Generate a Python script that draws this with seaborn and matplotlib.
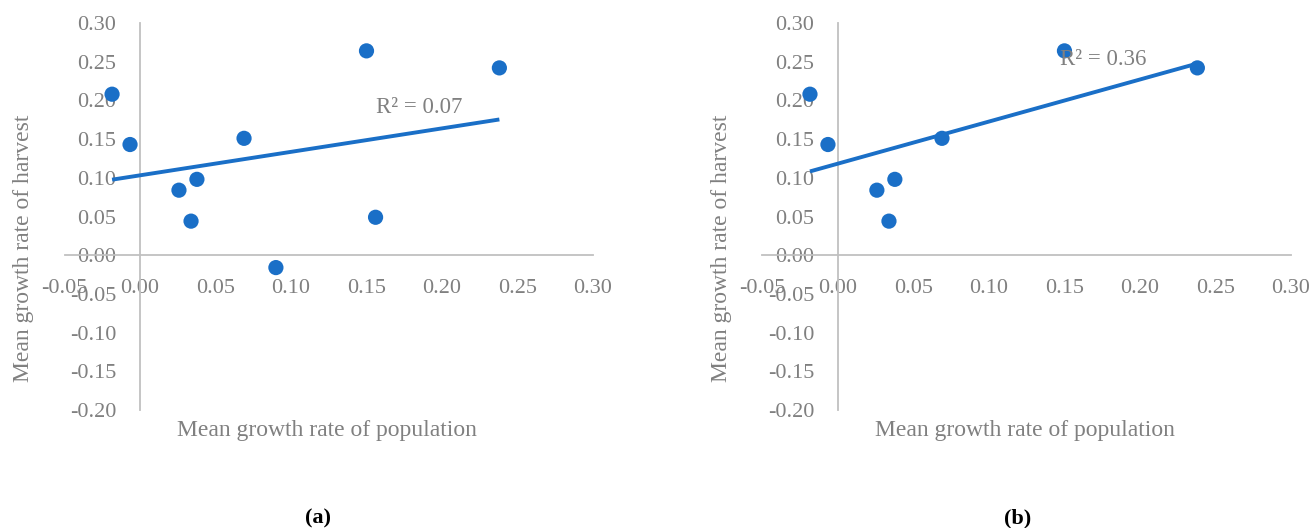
import numpy as np
import pandas as pd
import matplotlib
matplotlib.use("Agg")
import matplotlib.pyplot as plt
from matplotlib.ticker import FormatStrFormatter
import seaborn as sns

# Mean growth rates per region
pop_growth_a = [-0.0185, -0.0066, 0.0258, 0.0338, 0.0377, 0.0689, 0.0900, 0.1500, 0.1560, 0.2380]
harvest_growth_a = [0.208, 0.143, 0.084, 0.044, 0.098, 0.151, -0.016, 0.264, 0.049, 0.242]

# Same regions without the two outliers
pop_growth_b = [-0.0185, -0.0066, 0.0258, 0.0338, 0.0377, 0.0689, 0.1500, 0.2380]
harvest_growth_b = [0.208, 0.143, 0.084, 0.044, 0.098, 0.151, 0.264, 0.242]

x_ticks = [-0.05, 0.00, 0.05, 0.10, 0.15, 0.20, 0.25, 0.30]
y_ticks = [-0.20, -0.15, -0.10, -0.05, 0.00, 0.05, 0.10, 0.15, 0.20, 0.25, 0.30]
panel_tags = ["(a)", "(b)"]
x_title = "Mean growth rate of population"
y_title = "Mean growth rate of harvest"

sns.set_theme(style="white")
plt.rcParams["font.family"] = ["Liberation Serif", "DejaVu Serif"]
plt.rcParams["axes.unicode_minus"] = False

BLUE = "#1a6fc7"
GREY_TEXT = "#808080"
GREY_AXIS = "#c0c0c0"

W, H = 1311, 528
fig = plt.figure(figsize=(W / 100, H / 100), dpi=100)


def r_squared(x, y):
    r = np.corrcoef(np.asarray(x), np.asarray(y))[0, 1]
    return r * r


def panel(left_px, right_px, xs, ys, label_xy):
    top_px, bottom_px = 23, 410
    ax = fig.add_axes([left_px / W, (H - bottom_px) / H,
                       (right_px - left_px) / W, (bottom_px - top_px) / H])
    df = pd.DataFrame({"pop": xs, "harvest": ys})
    # least-squares trend line over the data range
    sns.regplot(data=df, x="pop", y="harvest", ax=ax, scatter=False, ci=None,
                truncate=True, line_kws=dict(color=BLUE, lw=2.8, solid_capstyle="butt", zorder=3))
    sns.scatterplot(data=df, x="pop", y="harvest", ax=ax, color=BLUE, s=120,
                    edgecolor="none", linewidth=0, zorder=4, clip_on=False)

    ax.set_xlim(-0.05, 0.30)
    ax.set_ylim(-0.20, 0.30)
    ax.set_xticks(x_ticks)
    ax.set_yticks(y_ticks)
    ax.xaxis.set_major_formatter(FormatStrFormatter("%.2f"))
    ax.yaxis.set_major_formatter(FormatStrFormatter("%.2f"))

    # axes cross at the origin
    for side in ("top", "right"):
        ax.spines[side].set_visible(False)
    for side in ("left", "bottom"):
        ax.spines[side].set_position(("data", 0))
        ax.spines[side].set_color(GREY_AXIS)
        ax.spines[side].set_linewidth(1.3)
        ax.spines[side].set_zorder(1)

    ax.tick_params(axis="x", length=0, pad=17, labelsize=16, labelcolor=GREY_TEXT)
    ax.tick_params(axis="y", length=0, pad=17, labelsize=16, labelcolor=GREY_TEXT)
    ax.patch.set_alpha(0)

    ax.set_xlabel(x_title, fontsize=17, color=GREY_TEXT)
    ax.set_ylabel(y_title, fontsize=17, color=GREY_TEXT)
    ax.xaxis.set_label_coords(0.497, -0.052)
    ax.xaxis.label.set_va("center")
    ax.yaxis.set_label_coords(-0.077, 0.419)
    ax.yaxis.label.set_va("center")

    ax.text(label_xy[0], label_xy[1], f"R² = {r_squared(xs, ys):.2f}",
            fontsize=16.5, color=GREY_TEXT, ha="left", va="center", zorder=6)
    return ax


panel(64.5, 593, pop_growth_a, harvest_growth_a, (0.1563, 0.1907))
panel(762.4, 1291, pop_growth_b, harvest_growth_b, (0.1468, 0.2526))

for tag, cx in zip(panel_tags, (318, 1018)):
    fig.text(cx / W, (H - 518) / H, tag, ha="center", va="center",
             fontsize=16, fontweight="bold", color="black")

fig.savefig("out.png", dpi=100)
